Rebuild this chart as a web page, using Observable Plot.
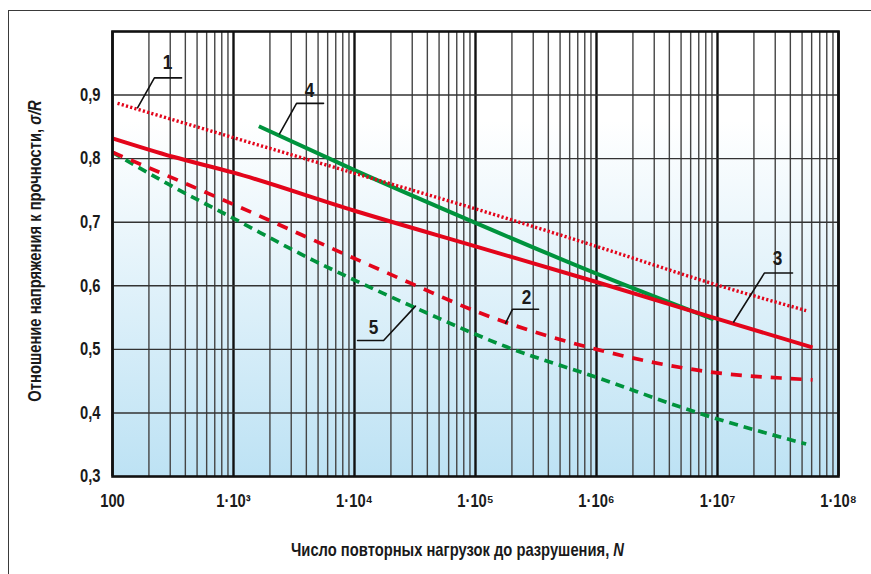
<!DOCTYPE html>
<html>
<head>
<meta charset="utf-8">
<script src="https://cdn.jsdelivr.net/npm/d3@7"></script>
<script src="https://cdn.jsdelivr.net/npm/@observablehq/plot@0.6"></script>
<style>
  html, body { margin: 0; padding: 0; background: #fff; overflow: hidden; }
  #wrap { position: relative; width: 871px; height: 574px; }
  #border { position: absolute; left: 8px; top: 10px; width: 900px; height: 600px;
            border: 1.5px solid #3a3a3a; pointer-events: none; }
</style>
</head>
<body>
<div id="wrap"><div id="border"></div><div id="chart"></div></div>
<script>
// ---- tick values and labels ----
const xMajorTicks = [1e2, 1e3, 1e4, 1e5, 1e6, 1e7, 1e8];
const xTickLabels = ["100", "1·10³", "1·10⁴", "1·10⁵", "1·10⁶", "1·10⁷", "1·10⁸"];
const minorMultipliers = [2, 3, 4, 5, 6, 7, 8, 9];
const yTicks = [0.3, 0.4, 0.5, 0.6, 0.7, 0.8, 0.9];
const yTickLabels = ["0,3", "0,4", "0,5", "0,6", "0,7", "0,8", "0,9"];
const yTitle = "Отношение напряжения к прочности, σ/R";
const xTitle = "Число повторных нагрузок до разрушения, N";

// ---- curves (N, σ/R) ----
const c1N = [110, 1e3, 1e4, 1e5, 1e6, 1e7, 5.4e7];
const c1Y = [0.887, 0.833, 0.777, 0.721, 0.662, 0.601, 0.561];
const c2N = [100, 500, 1e3, 1e4, 3e4, 1e5, 1e6, 1e7, 4e7, 6.1e7];
const c2Y = [0.81, 0.753, 0.728, 0.643, 0.603, 0.56, 0.50, 0.463, 0.454, 0.452];
const c3N = [100, 316, 1e3, 1e4, 1e5, 1e6, 1e7, 6.1e7];
const c3Y = [0.832, 0.803, 0.778, 0.718, 0.662, 0.606, 0.548, 0.503];
const c4N = [1620, 1e4, 1e5, 1e6, 9.3e6];
const c4Y = [0.851, 0.782, 0.699, 0.619, 0.547];
const c5N = [100, 282, 1e3, 4570, 1e4, 3.3e4, 1.8e5, 1e6, 7.2e6, 5.4e7];
const c5Y = [0.81, 0.761, 0.706, 0.640, 0.609, 0.564, 0.504, 0.456, 0.399, 0.351];

// ---- curve labels and leader lines ----
const labelNames = ["1", "2", "3", "4", "5"];
const labelN = [285, 2.64e5, 3.13e7, 4250, 1.44e4];
const labelY = [0.951, 0.582, 0.643, 0.908, 0.535];
const leaderN = [[372, 222, 161], [3.32e5, 2.02e5, 1.77e5], [4.17e7, 2.44e7, 1.36e7], [5550, 3320, 2400], [1.06e4, 1.74e4, 3.19e4]];
const leaderY = [[0.927, 0.927, 0.880], [0.563, 0.563, 0.541], [0.620, 0.620, 0.543], [0.887, 0.887, 0.839], [0.514, 0.514, 0.568]];

const RED = "#e3051b", GREEN = "#00933d";
const toRows = (N, Y) => N.map((n, i) => ({N: n, v: Y[i]}));
const minorTicks = xMajorTicks.slice(0, -1).flatMap(d => minorMultipliers.map(m => d * m));
const xLabelMap = new Map(xMajorTicks.map((d, i) => [d, xTickLabels[i]]));
const yLabelMap = new Map(yTicks.map((d, i) => [d, yTickLabels[i]]));
const leaders = leaderN.flatMap((arr, k) => arr.map((n, j) => ({k, N: n, v: leaderY[k][j]})));
const labels = labelNames.map((t, i) => ({t, N: labelN[i], v: labelY[i]}));

const FONT = "'Liberation Sans', Arial, sans-serif";
const lineOpts = {x: "N", y: "v", curve: "monotone-x", strokeLinecap: "butt", strokeLinejoin: "round"};

const chart = Plot.plot({
  width: 871, height: 574,
  marginLeft: 112, marginRight: 33, marginTop: 31, marginBottom: 98,
  x: {type: "log", domain: [100, 1e8]},
  y: {domain: [0.3, 1.0]},
  style: {fontFamily: FONT, fontWeight: "bold", color: "#1a1a1a", background: "transparent"},
  marks: [
    Plot.frame({fill: "url(#bgGrad)"}),
    Plot.ruleX(minorTicks, {stroke: "#444", strokeWidth: 1.4}),
    Plot.ruleX(xMajorTicks, {stroke: "#111", strokeWidth: 2.4}),
    Plot.ruleY(yTicks.slice(1), {stroke: "#333", strokeWidth: 1.4}),
    Plot.line(toRows(c5N, c5Y), {...lineOpts, stroke: GREEN, strokeWidth: 3.7, strokeDasharray: "9,6"}),
    Plot.line(toRows(c2N, c2Y), {...lineOpts, stroke: RED, strokeWidth: 3.7, strokeDasharray: "11,9"}),
    Plot.line(toRows(c4N, c4Y), {...lineOpts, stroke: GREEN, strokeWidth: 4}),
    Plot.line(toRows(c3N, c3Y), {...lineOpts, stroke: RED, strokeWidth: 4}),
    Plot.line(toRows(c1N, c1Y), {...lineOpts, stroke: RED, strokeWidth: 3.4, strokeDasharray: "2.2,2.2"}),
    Plot.line(leaders, {x: "N", y: "v", z: "k", stroke: "#111", strokeWidth: 1.6}),
    Plot.text(labels, {x: "N", y: "v", text: "t", fontSize: 21, fill: "#1a1a1a"}),
    Plot.frame({stroke: "#111", strokeWidth: 2.6}),
    Plot.axisX(xMajorTicks, {tickSize: 0, tickPadding: 18, fontSize: 18, label: null, tickFormat: d => xLabelMap.get(d)}),
    Plot.axisY(yTicks, {tickSize: 0, tickPadding: 12, fontSize: 18, label: null, tickFormat: d => yLabelMap.get(d)}),
    Plot.text([yTitle], {frameAnchor: "left", textAnchor: "middle", dx: -77, dy: -3, rotate: -90, fontSize: 18}),
    Plot.text([xTitle], {frameAnchor: "bottom", textAnchor: "middle", dx: -18, dy: 79, fontSize: 18})
  ]
});

// gradient definition for the plot background
const svgEl = chart.tagName.toLowerCase() === "svg" ? chart : chart.querySelector("svg");
const svg = d3.select(svgEl);
const defs = svg.insert("defs", ":first-child");
const grad = defs.append("linearGradient").attr("id", "bgGrad")
  .attr("x1", 0).attr("y1", 0).attr("x2", 0).attr("y2", 1);
grad.append("stop").attr("offset", "0").attr("stop-color", "#ffffff");
grad.append("stop").attr("offset", "0.2").attr("stop-color", "#ffffff");
grad.append("stop").attr("offset", "1").attr("stop-color", "#bde2f4");

// italic parts of axis titles, condensed by a horizontal scale along the text direction
const titleEls = new Set();
svg.selectAll("text").each(function () {
  const el = d3.select(this);
  const s = this.textContent;
  const parts = [[", σ/R", "σ/R"], [", N", "N"]];
  for (const [suffix, ital] of parts) {
    if (s.endsWith(suffix) && (s === yTitle || s === xTitle)) {
      const head = s.slice(0, s.length - ital.length);
      el.text(null);
      el.append("tspan").text(head);
      el.append("tspan").attr("font-style", "italic").text(ital);
      const t = this.getAttribute("transform") || "";
      this.setAttribute("transform", (t + " scale(0.82,1)").trim());
      titleEls.add(this);
      break;
    }
  }
});

document.getElementById("chart").appendChild(chart);

// condense glyphs of the other texts to mimic a narrow typeface (text remains real text)
svg.selectAll("text").each(function () {
  if (titleEls.has(this)) return;
  const len = this.getComputedTextLength();
  if (len > 0) {
    this.setAttribute("textLength", (len * 0.82).toFixed(1));
    this.setAttribute("lengthAdjust", "spacingAndGlyphs");
  }
});
</script>
</body>
</html>
